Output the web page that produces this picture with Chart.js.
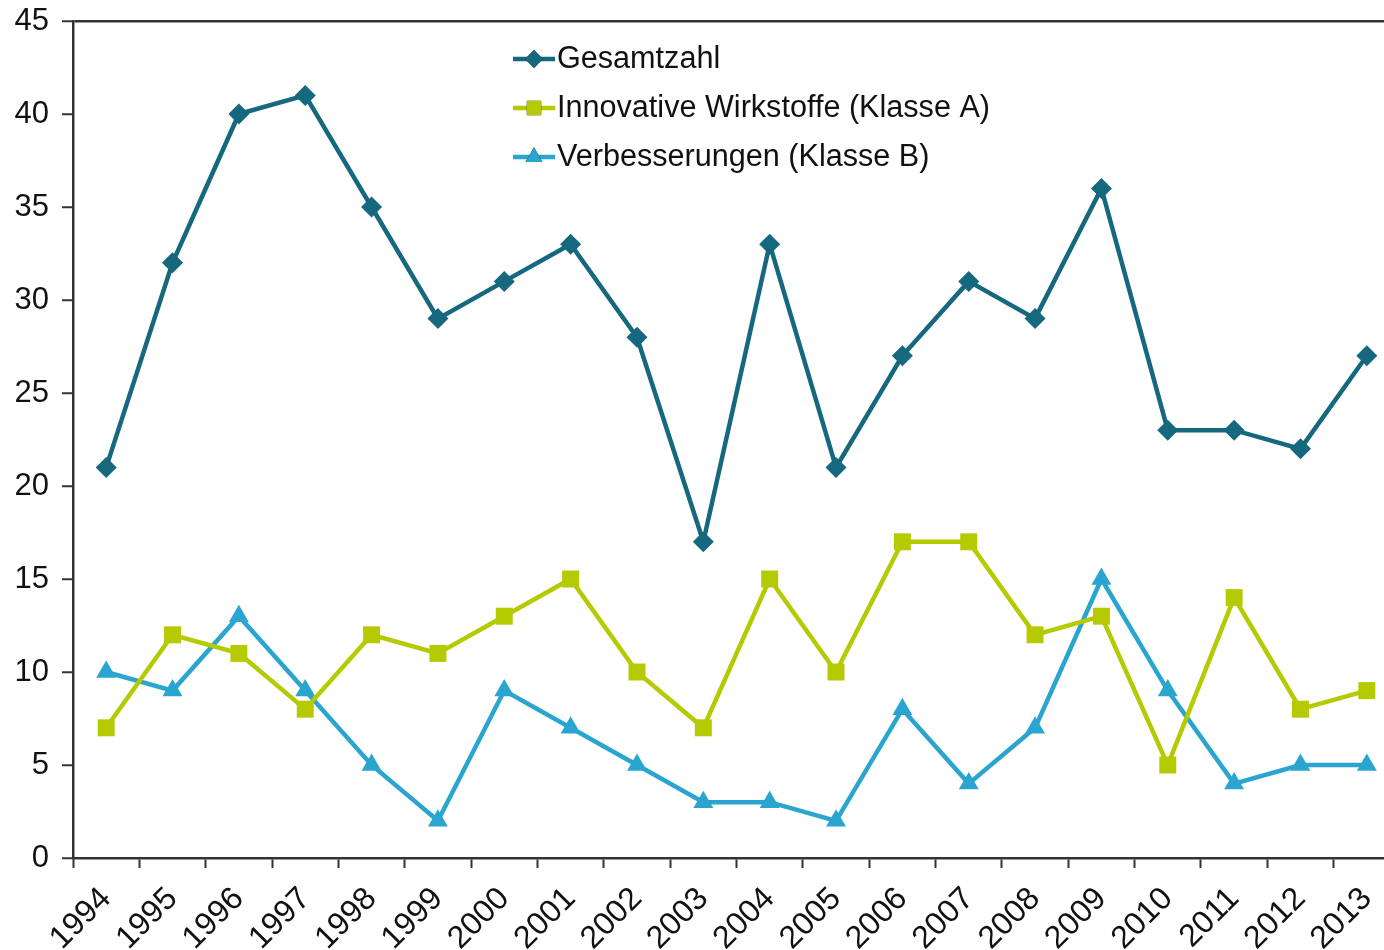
<!DOCTYPE html>
<html>
<head>
<meta charset="utf-8">
<script src="https://cdn.jsdelivr.net/npm/chart.js@4"></script>
<style>
  body { margin: 0; background: #fff; overflow: hidden; }
  #wrap { width: 1420px; height: 950px; }
</style>
</head>
<body>
<div id="wrap"><canvas id="myChart" width="1420" height="950"></canvas></div>
<script>
// 데이터
var years = ['1994','1995','1996','1997','1998','1999','2000','2001','2002','2003',
             '2004','2005','2006','2007','2008','2009','2010','2011','2012','2013'];
var gesamtzahl = [21,32,40,41,35,29,31,33,28,17,33,21,27,31,29,36,23,23,22,27];
var klasseA    = [7,12,11,8,12,11,13,15,10,7,15,10,17,17,12,13,5,14,8,9];
var klasseB    = [10,9,13,9,5,2,9,7,5,3,3,2,8,4,7,15,9,4,5,5];
var yTicks     = [0,5,10,15,20,25,30,35,40,45];

var FONT = '"Liberation Sans", Arial, sans-serif';
var AXIS = '#333333';

// 범례 (차트 안쪽에 직접 그림)
var innerLegend = {
  id: 'innerLegend',
  afterDraw: function(chart){
    var ctx = chart.ctx;
    var rows = [59, 108, 157];
    chart.data.datasets.forEach(function(ds, i){
      var y = rows[i];
      ctx.save();
      ctx.strokeStyle = ds.borderColor;
      ctx.lineWidth = ds.borderWidth;
      ctx.beginPath();
      ctx.moveTo(513, y);
      ctx.lineTo(555, y);
      ctx.stroke();
      Chart.helpers.drawPoint(ctx, {
        pointStyle: ds.pointStyle,
        radius: ds.pointRadius * 0.85,
        borderWidth: 0,
        rotation: 0
      }, 534, y);
      ctx.fillStyle = ds.pointBackgroundColor;
      ctx.fill();
      ctx.fillStyle = '#111';
      ctx.font = '30.6px ' + FONT;
      ctx.textBaseline = 'middle';
      ctx.textAlign = 'left';
      ctx.fillText(ds.label, 557, y + 1);
      ctx.restore();
    });
  }
};

var ctx = document.getElementById('myChart');

new Chart(ctx, {
  type: 'line',
  data: {
    labels: years,
    datasets: [
      {
        label: 'Gesamtzahl',
        data: gesamtzahl,
        borderColor: '#15687e',
        backgroundColor: '#15687e',
        pointBackgroundColor: '#15687e',
        pointBorderWidth: 0,
        borderWidth: 4.5,
        pointStyle: 'rectRot',
        pointRadius: 10.5,
        tension: 0
      },
      {
        label: 'Innovative Wirkstoffe (Klasse A)',
        data: klasseA,
        borderColor: '#b5ca00',
        backgroundColor: '#b5ca00',
        pointBackgroundColor: '#b5ca00',
        pointBorderWidth: 0,
        borderWidth: 4.5,
        pointStyle: 'rect',
        pointRadius: 12,
        tension: 0
      },
      {
        label: 'Verbesserungen (Klasse B)',
        data: klasseB,
        borderColor: '#2aa5cf',
        backgroundColor: '#2aa5cf',
        pointBackgroundColor: '#2aa5cf',
        pointBorderWidth: 0,
        borderWidth: 4.5,
        pointStyle: 'triangle',
        pointRadius: 11.5,
        tension: 0
      }
    ]
  },
  options: {
    responsive: false,
    animation: false,
    layout: { padding: { left: 0, top: 21, right: 20, bottom: 0 } },
    plugins: {
      legend: { display: false },
      tooltip: { enabled: false }
    },
    scales: {
      x: {
        offset: true,
        grid: { offset: true, drawOnChartArea: false, tickLength: 10, tickColor: AXIS, tickWidth: 2 },
        border: { color: AXIS, width: 2.5 },
        ticks: {
          minRotation: 45, maxRotation: 45, autoSkip: false, padding: 12,
          color: '#111', font: { family: FONT, size: 32 }
        },
        afterFit: function(scale){
          scale.height = 92;
          scale.paddingLeft = 0; scale.paddingRight = 0;
        }
      },
      y: {
        min: 0, max: 45,
        afterBuildTicks: function(scale){
          scale.ticks = yTicks.map(function(v){ return { value: v }; });
        },
        grid: {
          color: function(c){ return c.tick && c.tick.value === 45 ? AXIS : 'rgba(0,0,0,0)'; },
          tickColor: AXIS, tickLength: 11, lineWidth: 2.5, tickWidth: 2
        },
        border: { color: AXIS, width: 2.5 },
        ticks: { padding: 13, color: '#111', font: { family: FONT, size: 31 } },
        afterFit: function(scale){
          scale.width = 73;
          scale.paddingTop = 0; scale.paddingBottom = 0;
        }
      }
    }
  },
  plugins: [innerLegend]
});
</script>
</body>
</html>
